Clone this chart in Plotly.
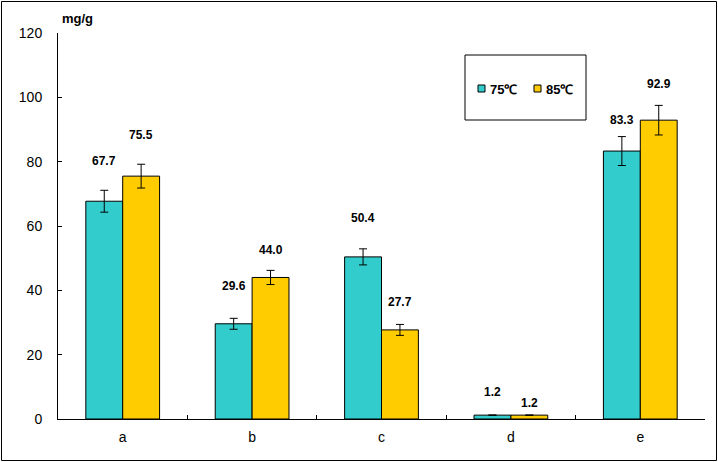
import plotly.graph_objects as go

categories = ["a", "b", "c", "d", "e"]
series_names = ["75℃", "85℃"]
values_75 = [67.7, 29.6, 50.4, 1.2, 83.3]
values_85 = [75.5, 44.0, 27.7, 1.2, 92.9]
errors_75 = [3.4, 1.7, 2.5, 0.0, 4.5]
errors_85 = [3.7, 2.2, 1.7, 0.0, 4.6]
label_75 = ["67.7", "29.6", "50.4", "1.2", "83.3"]
label_85 = ["75.5", "44.0", "27.7", "1.2", "92.9"]
y_ticks = [0, 20, 40, 60, 80, 100, 120]

# styling: vertical gaps (data units) between error-bar top and label
gap_75 = [9.0, 10.0, 9.6, 7.2, 5.0]
gap_85 = [9.0, 6.3, 7.0, 3.8, 6.5]

TEAL = "#33CCCC"
YELLOW = "#FFCC00"
FONT = "Liberation Sans, Arial, sans-serif"

fig = go.Figure()
fig.add_trace(go.Bar(
    x=categories, y=values_75, name=series_names[0],
    marker=dict(color=TEAL, line=dict(color="black", width=1)),
    error_y=dict(type="data", array=errors_75, color="black", thickness=1, width=4),
    offsetgroup="0", showlegend=False,
))
fig.add_trace(go.Bar(
    x=categories, y=values_85, name=series_names[1],
    marker=dict(color=YELLOW, line=dict(color="black", width=1)),
    error_y=dict(type="data", array=errors_85, color="black", thickness=1, width=4),
    offsetgroup="1", showlegend=False,
))

W, H = 718, 462
ml, mr, mt, mb = 58, 13, 33, 43
pw = W - ml - mr
ph = H - mt - mb

def px_x(p):
    return (p - ml) / pw

def px_y(p):
    return (H - mb - p) / ph

annotations = []
half = 0.1425
for i, c in enumerate(categories):
    annotations.append(dict(x=i - half, y=values_75[i] + errors_75[i] + gap_75[i],
                            xref="x", yref="y", text="<b>%s</b>" % label_75[i],
                            showarrow=False, font=dict(size=12, family=FONT, color="black")))
    annotations.append(dict(x=i + half, y=values_85[i] + errors_85[i] + gap_85[i],
                            xref="x", yref="y", text="<b>%s</b>" % label_85[i],
                            showarrow=False, font=dict(size=12, family=FONT, color="black")))
annotations.append(dict(x=px_x(60), y=px_y(18), xref="paper", yref="paper",
                        xanchor="left", yanchor="middle", text="<b>mg/g</b>",
                        showarrow=False, font=dict(size=13, family=FONT, color="black")))

# manual legend
legend_items = [(series_names[0], TEAL, 478, 488), (series_names[1], YELLOW, 534, 544)]
shapes = [
    dict(type="rect", xref="paper", yref="paper",
         x0=px_x(465), x1=px_x(586), y0=px_y(120), y1=px_y(55),
         line=dict(color="black", width=1), fillcolor="rgba(0,0,0,0)"),
    dict(type="rect", xref="paper", yref="paper",
         x0=px_x(1.5), x1=px_x(716.5), y0=px_y(460.5), y1=px_y(1.5),
         line=dict(color="black", width=1), fillcolor="rgba(0,0,0,0)"),
]
for name, col, sx, tx in legend_items:
    shapes.append(dict(type="rect", xref="paper", yref="paper",
                       x0=px_x(sx), x1=px_x(sx + 7), y0=px_y(92), y1=px_y(85),
                       line=dict(color="black", width=1), fillcolor=col))
    annotations.append(dict(x=px_x(tx), y=px_y(89.5), xref="paper", yref="paper",
                            xanchor="left", yanchor="middle", text="<b>%s</b>" % name,
                            showarrow=False, font=dict(size=13, family=FONT, color="black")))

fig.update_layout(
    width=W, height=H,
    margin=dict(l=ml, r=mr, t=mt, b=mb, autoexpand=False),
    paper_bgcolor="white", plot_bgcolor="white",
    barmode="group", bargap=0.43, bargroupgap=0,
    font=dict(family=FONT, size=14, color="black"),
    showlegend=False,
    annotations=annotations,
    shapes=shapes,
)
fig.update_xaxes(
    showline=True, linecolor="black", linewidth=1,
    ticks="inside", ticklen=4, tickcolor="black", tickson="boundaries",
    showgrid=False, tickfont=dict(size=14, family=FONT), automargin=False,
    ticklabelstandoff=5,
)
fig.update_yaxes(
    range=[0, 120], tickvals=y_ticks, showline=True, linecolor="black", linewidth=1,
    ticks="inside", ticklen=4, tickcolor="black", showgrid=False, zeroline=False,
    tickfont=dict(size=14, family=FONT), ticklabelstandoff=12, automargin=False,
)

fig.write_html("out.html", config={"displayModeBar": False},
               post_script="document.body.style.margin='0';document.body.style.overflow='hidden';")
